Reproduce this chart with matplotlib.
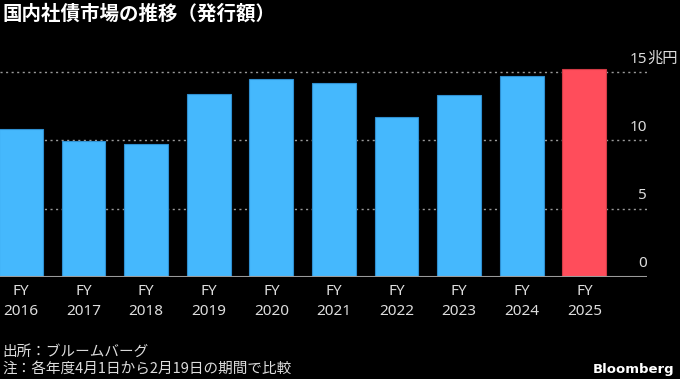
import matplotlib
matplotlib.use("Agg")
import matplotlib.pyplot as plt

plt.rcParams['font.family'] = ['Noto Sans CJK JP', 'DejaVu Sans']
num_font = ['Noto Sans', 'Noto Sans CJK JP']

years = ["2016", "2017", "2018", "2019", "2020", "2021", "2022", "2023", "2024", "2025"]
issuance = [10.8, 9.95, 9.7, 13.4, 14.5, 14.2, 11.7, 13.3, 14.75, 15.2]
yticks = [0, 5, 10, 15]

blue = "#45b8fd"
red = "#ff4d5b"
colors = [blue] * (len(years) - 1) + [red]
edges = ["#2f8fd0"] * (len(years) - 1) + ["#d03a45"]

fig = plt.figure(figsize=(6.8, 3.79), dpi=100, facecolor="black")
ax = fig.add_axes([0, 1 - 277 / 379, 647 / 680, 16 * 13.66 / 379])
ax.set_facecolor("black")

x = list(range(len(years)))
ax.bar(x, issuance, width=0.7, color=colors, edgecolor=edges, linewidth=0.8, zorder=3)

ax.set_xlim(-0.335, 10.0)
ax.set_ylim(0, 16)

for v in yticks[1:]:
    ax.axhline(v, color="#9a9a9a", linestyle=(0, (1.5, 2.5)), linewidth=1, zorder=1)
ax.axhline(0, color="#9a9a9a", linewidth=1.5, zorder=4)

for v in yticks:
    ax.annotate(str(v), xy=(1, v), xycoords=("axes fraction", "data"),
                xytext=(0, 4), textcoords="offset points", family=num_font,
                ha="right", va="bottom", color="#dddddd", fontsize=11, annotation_clip=False)
ax.annotate("兆円", xy=(1, 15), xycoords=("axes fraction", "data"),
            xytext=(0.5, 4), textcoords="offset points",
            ha="left", va="bottom", color="#dddddd", fontsize=11, annotation_clip=False)

ax.set_xticks(x)
ax.set_xticklabels(["FY\n" + y for y in years], color="#dddddd", fontsize=11,
                   linespacing=1.45, family=num_font)
ax.tick_params(axis="x", length=0, pad=5)
ax.set_yticks([])
for s in ax.spines.values():
    s.set_visible(False)

fig.text(0.003, 1 - 14 / 379, "国内社債市場の推移（発行額）", color="white",
         fontsize=14, fontweight="bold", ha="left", va="center")
fig.text(0.003, 1 - 352 / 379, "出所：ブルームバーグ", color="#dddddd",
         fontsize=10.5, ha="left", va="center")
fig.text(0.003, 1 - 370 / 379, "注：各年度4月1日から2月19日の期間で比較", color="#dddddd",
         fontsize=10.5, ha="left", va="center")
fig.text(674 / 680, 1 - 369 / 379, "Bloomberg", color="white", family="DejaVu Sans",
         fontsize=9.5, fontweight="bold", ha="right", va="center")

fig.savefig("out.png", dpi=100, facecolor="black")
